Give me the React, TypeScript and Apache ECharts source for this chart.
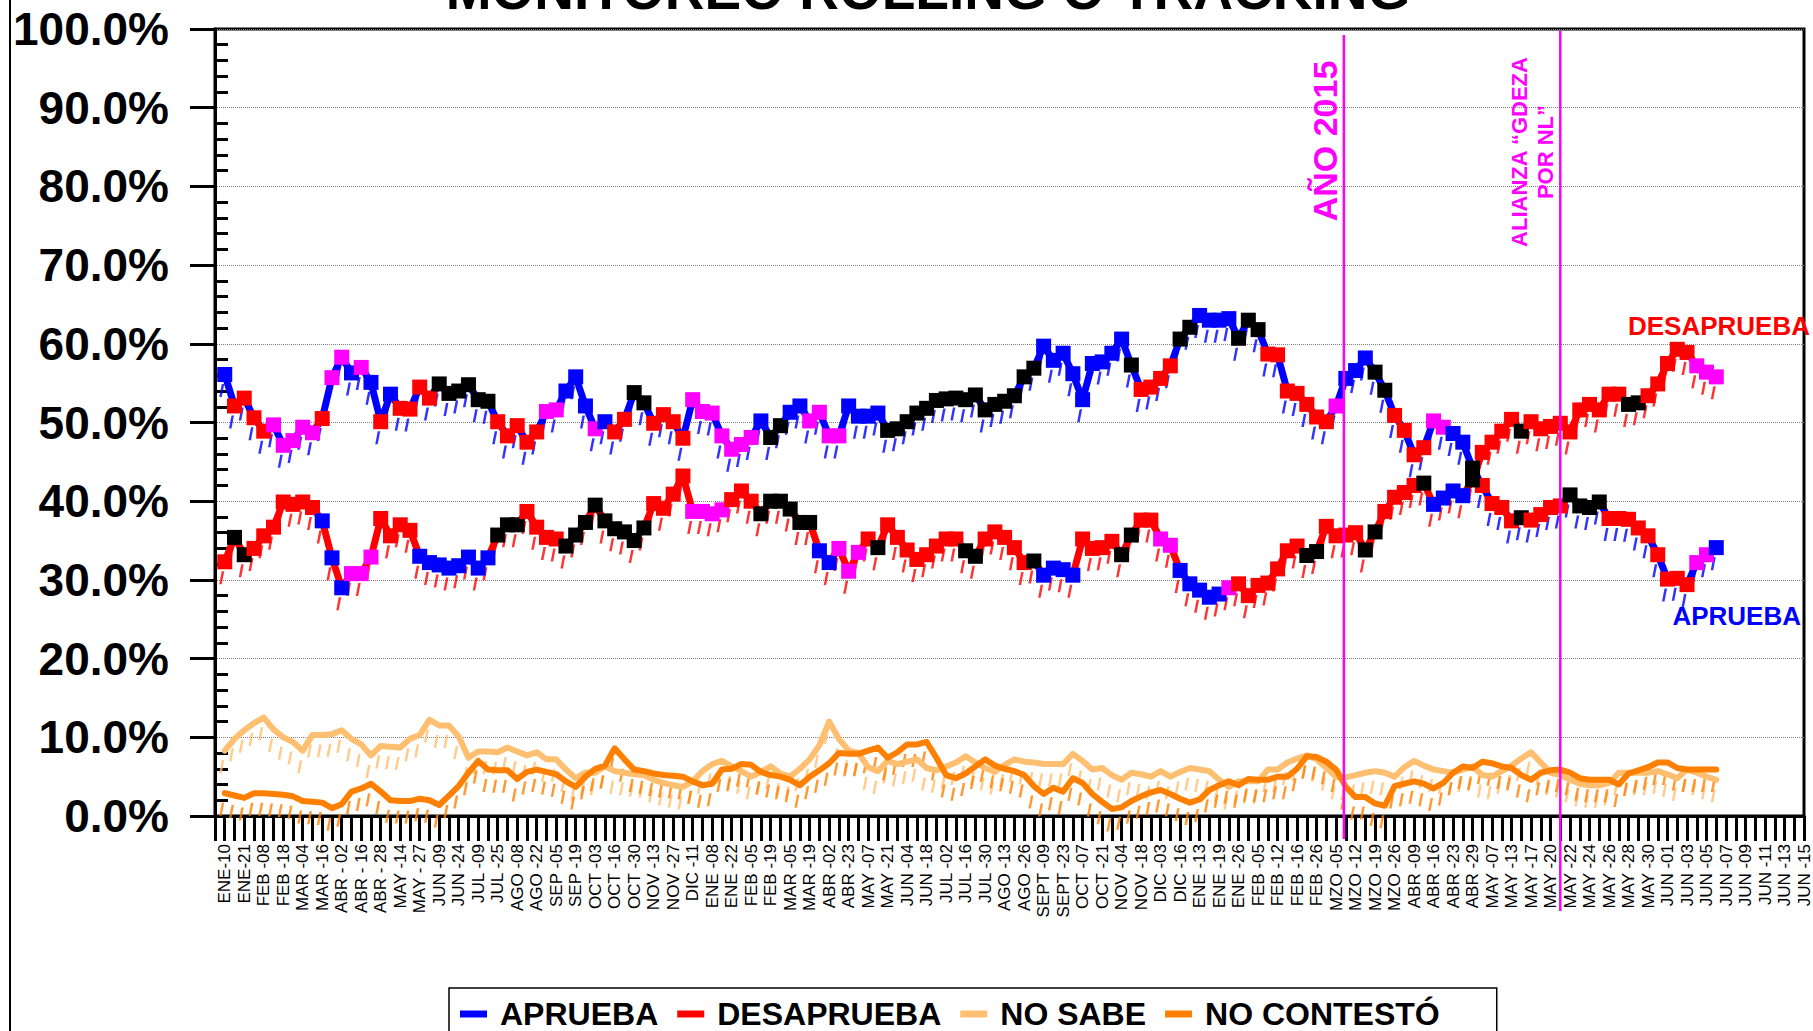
import React, { useEffect, useRef } from "react";
import * as echarts from "echarts";

const FONT = "'Liberation Sans', Arial, Helvetica, sans-serif";

const TICK_LABELS = [
  "ENE-10", "ENE-21", "FEB -08", "FEB -18", "MAR -04", "MAR -16", "ABR - 02", "ABR - 16", "ABR - 28", "MAY -14",
  "MAY - 27", "JUN -09", "JUN -24", "JUL -09", "JUL -25", "AGO -08", "AGO -22", "SEP -05", "SEP -19", "OCT -03",
  "OCT -16", "OCT -30", "NOV -13", "NOV -27", "DIC -11", "ENE -08", "ENE -22", "FEB -05", "FEB -19", "MAR -05",
  "MAR -19", "ABR -02", "ABR -23", "MAY -07", "MAY -21", "JUN -04", "JUN -18", "JUL -02", "JUL -16", "JUL -30",
  "AGO -13", "AGO -26", "SEPT -09", "SEPT -23", "OCT -07", "OCT -21", "NOV -04", "NOV -18", "DIC -03", "DIC -16",
  "ENE -13", "ENE -19", "ENE -26", "FEB -05", "FEB -12", "FEB -16", "FEB -26", "MZO -05", "MZO -12", "MZO -19",
  "MZO -26", "ABR -09", "ABR -16", "ABR -23", "ABR -29", "MAY -07", "MAY -13", "MAY -17", "MAY -20", "MAY -22",
  "MAY -24", "MAY -26", "MAY -28", "MAY -30", "JUN -01", "JUN -03", "JUN -05", "JUN -07", "JUN -09", "JUN -11",
  "JUN -13", "JUN -15",
];

// 164 category slots: labels on odd slots, unlabeled weeks on even slots
const CATEGORIES = Array.from({ length: 164 }, (_, i) => (i % 2 === 1 ? TICK_LABELS[(i - 1) / 2] : ""));

const APRUEBA = [
  56.1, 52.1, 53.1, 50.6, 48.9, 49.7, 47.1, 47.7, 49.4, 48.7,
  50.5, 55.7, 58.3, 56.3, 57.0, 55.1, 50.1, 53.6, 51.8, 51.7,
  54.5, 53.1, 54.9, 53.7, 54.0, 54.8, 52.9, 52.7, 50.1, 48.3,
  49.6, 47.5, 48.8, 51.4, 51.6, 54.0, 55.8, 52.1, 49.2, 50.1,
  48.8, 50.4, 53.8, 52.5, 49.9, 51.0, 50.1, 48.0, 52.9, 51.4,
  51.2, 48.3, 46.6, 47.2, 48.1, 50.2, 48.1, 49.6, 51.3, 52.1,
  50.2, 51.3, 48.3, 48.3, 52.1, 50.8, 50.8, 51.2, 49.0, 49.2,
  50.1, 51.2, 51.8, 52.8, 53.0, 53.1, 52.9, 53.5, 51.6, 52.3,
  52.7, 53.4, 55.8, 56.9, 59.7, 57.9, 58.8, 56.2, 52.9, 57.5,
  57.7, 58.8, 60.6, 57.3, 54.2, 54.5, 55.6, 57.2, 60.6, 62.1,
  63.6, 63.0, 63.0, 63.2, 60.7, 63.0, 61.8, 58.7, 58.6, 54.0,
  53.7, 52.3, 50.7, 50.1, 52.1, 55.6, 56.6, 58.2, 56.4, 54.1,
  50.9, 49.0, 45.9, 46.8, 50.2, 49.4, 48.6, 47.5, 44.2, 42.0,
  39.7, 39.2, 37.5, 37.9, 37.6, 38.3, 39.2, 39.4, 40.8, 39.4,
  39.2, 39.9, 37.8, 37.8, 37.7, 36.6, 35.6, 33.2, 30.1, 30.2,
  29.4, 32.2, 33.2, 34.1,
];
const APRUEBA_MARKS =
  "BRRRRMMMMM" + "RMMBMBRBRR" + "RRKKKKKKRR" + "RRRMMBBBMB" + "RRKKRRRRMM" +
  "MMMMMBKKBB" + "MMMMBBBBKK" + "KKKKKKKKKK" + "KKKKBBBBBB" + "BBBKRRRRKK" +
  "BBBBKKKRRR" + "RRRRMBBBKK" + "RRRRMMBBKR" + "RRRKRRRRKK" + "KKRRRRRRRR" + "RMMB";

const DESAPRUEBA = [
  32.3, 35.4, 33.2, 34.0, 35.6, 36.7, 39.9, 39.6, 39.9, 39.2,
  37.5, 32.8, 29.0, 30.8, 30.8, 32.9, 37.8, 35.6, 37.0, 36.3,
  33.0, 32.2, 31.9, 31.5, 31.8, 32.9, 31.5, 32.8, 35.7, 37.0,
  37.0, 38.7, 36.7, 35.4, 35.2, 34.3, 35.7, 37.3, 39.5, 37.5,
  36.5, 36.1, 35.0, 36.6, 39.7, 39.1, 40.9, 43.2, 38.7, 38.7,
  38.4, 38.9, 40.2, 41.3, 40.0, 38.4, 40.0, 40.0, 39.0, 37.3,
  37.3, 33.7, 32.2, 34.0, 31.1, 33.5, 35.2, 34.1, 37.0, 35.4,
  33.8, 32.6, 33.2, 34.3, 35.2, 35.2, 33.7, 33.0, 35.2, 36.1,
  35.4, 34.1, 32.2, 32.4, 30.6, 31.5, 31.3, 30.6, 35.2, 34.0,
  34.1, 34.9, 33.2, 35.7, 37.6, 37.6, 35.2, 34.4, 31.2, 29.5,
  28.7, 27.8, 28.2, 29.0, 29.5, 28.0, 29.3, 29.6, 31.4, 33.7,
  34.3, 33.1, 33.6, 36.8, 35.6, 35.7, 36.0, 33.8, 36.1, 38.7,
  40.5, 41.1, 42.0, 42.3, 39.6, 40.4, 41.3, 40.7, 42.7, 46.2,
  47.5, 48.9, 50.4, 48.9, 50.1, 49.2, 49.5, 49.9, 48.8, 51.6,
  52.3, 51.6, 53.6, 53.6, 52.3, 52.5, 53.4, 54.9, 57.5, 59.3,
  58.9, 57.2, 56.4, 55.8,
];
const DESAPRUEBA_MARKS =
  "RKKRRRRRRR" + "BBBMMMRRRR" + "BBBBBBBBKK" + "KRRRRKKKKK" + "KKKKRRRRMM" +
  "MMRRRKKKKK" + "KBBMMMRKRR" + "RRRRRRKKRR" + "RRRKBBBBRR" + "RRKKRRMMBB" +
  "BBBMRRRRRR" + "RKKRRRRKKR" + "RRRKBBBBKR" + "RRRKRRRRRR" + "RRRRKKRRRR" + "RMMM";

const NO_SABE = [
  8.3, 9.8, 10.9, 11.8, 12.5, 11.0, 10.0, 9.4, 8.3, 10.3,
  10.3, 10.4, 10.9, 9.8, 9.1, 7.7, 8.9, 8.8, 8.7, 9.8,
  10.3, 12.2, 11.5, 11.5, 10.1, 7.4, 8.2, 8.2, 8.1, 8.7,
  8.2, 7.7, 8.1, 7.2, 7.2, 5.9, 4.8, 5.5, 5.5, 6.3,
  5.7, 5.5, 5.3, 5.2, 4.6, 4.2, 3.9, 3.7, 4.4, 5.7,
  6.6, 7.0, 6.3, 5.7, 5.0, 5.6, 6.3, 5.4, 5.0, 6.0,
  7.2, 9.0, 12.0, 9.8, 8.3, 8.0, 6.2, 5.7, 7.0, 6.6,
  6.9, 7.2, 6.1, 5.8, 6.3, 6.8, 7.6, 6.8, 6.1, 5.6,
  6.5, 7.2, 6.9, 6.8, 6.6, 6.6, 6.6, 7.9, 7.0, 5.9,
  6.1, 5.2, 4.6, 5.5, 5.3, 5.0, 5.7, 5.0, 5.6, 6.1,
  5.9, 5.7, 4.6, 3.7, 4.4, 4.4, 4.4, 5.9, 5.9, 6.8,
  7.3, 7.7, 7.2, 6.1, 5.0, 4.9, 5.2, 5.5, 5.7, 5.5,
  5.0, 6.2, 7.0, 6.4, 5.9, 5.7, 5.5, 5.9, 6.3, 5.2,
  5.0, 5.7, 6.4, 7.3, 8.1, 6.8, 5.5, 5.2, 4.6, 4.1,
  3.9, 3.9, 4.2, 5.5, 5.5, 5.5, 5.5, 5.7, 5.3, 4.8,
  5.9, 5.5, 5.0, 4.6,
];

const NO_CONTESTO = [
  2.9, 2.6, 2.3, 2.9, 2.9, 2.8, 2.7, 2.5, 1.9, 1.8,
  1.7, 1.0, 1.5, 3.1, 3.5, 4.1, 3.1, 2.0, 1.9, 1.9,
  2.2, 2.0, 1.4, 2.6, 3.8, 5.5, 7.0, 5.9, 5.8, 5.8,
  4.7, 5.6, 5.9, 5.6, 5.3, 4.4, 3.7, 5.0, 6.0, 6.4,
  8.6, 7.2, 5.9, 5.7, 5.4, 5.2, 5.1, 5.0, 4.4, 3.9,
  4.1, 5.9, 6.0, 6.6, 6.5, 5.6, 5.2, 5.0, 4.6, 3.9,
  5.0, 5.8, 6.7, 8.0, 7.9, 7.9, 8.3, 8.7, 7.4, 8.1,
  9.1, 9.1, 9.4, 7.4, 5.2, 4.8, 5.4, 6.3, 7.2, 6.4,
  6.0, 5.7, 5.2, 3.8, 2.8, 3.6, 3.1, 4.8, 4.2, 2.8,
  1.8, 0.9, 1.1, 1.9, 2.5, 3.0, 3.3, 2.8, 2.2, 1.7,
  2.1, 3.3, 3.9, 4.4, 3.9, 4.7, 4.6, 4.6, 5.0, 5.0,
  6.0, 7.6, 7.5, 6.9, 5.9, 3.7, 2.4, 2.4, 1.6, 1.3,
  3.8, 4.1, 4.4, 4.1, 3.5, 4.2, 5.5, 6.3, 6.1, 6.9,
  6.7, 6.3, 6.1, 5.2, 4.6, 5.5, 5.8, 5.9, 5.5, 4.8,
  4.6, 4.6, 4.6, 4.0, 5.4, 5.8, 6.2, 6.8, 6.8, 6.1,
  5.9, 5.9, 5.9, 5.9,
];

const BLUE = "#0000FF";
const RED = "#FF0000";
const MAGENTA = "#FF00FF";
const LIGHT_ORANGE = "#FFBF70";
const ORANGE = "#FF8000";
const MARK_COLORS: Record<string, string> = { B: BLUE, R: RED, M: MAGENTA, K: "#000000" };

const markedData = (values: number[], marks: string) =>
  values.map((v, k) => ({ value: [k + 1, v], itemStyle: { color: MARK_COLORS[marks[k]] } }));

const plainData = (values: number[]) => values.map((v, k) => [k + 1, v]);

const shadowSeries = (name: string, color: string, values: number[]) => ({
  type: "scatter",
  name: name + " sombra",
  data: plainData(values),
  symbol: "path://M3,0 L6,0 L3,13 L0,13 Z",
  symbolSize: [5, 13],
  symbolOffset: [-3, 16],
  itemStyle: { color },
  z: 1,
  silent: true,
});

const mainSeries = (name: string, color: string, values: number[], marks: string) => ({
  type: "line",
  name,
  data: markedData(values, marks),
  symbol: "rect",
  symbolSize: 15,
  showSymbol: true,
  showAllSymbol: true,
  lineStyle: { color, width: 7, join: "round" },
  itemStyle: { color },
  z: 3,
  silent: true,
});

const thinSeries = (name: string, color: string, values: number[]) => ({
  type: "line",
  name,
  data: plainData(values),
  symbol: "none",
  showSymbol: false,
  lineStyle: { color, width: 6, join: "round", cap: "round" },
  itemStyle: { color },
  z: 2,
  silent: true,
});

export default function App() {
  const ref = useRef<HTMLDivElement>(null);

  useEffect(() => {
    document.body.style.margin = "0";
    if (!ref.current) return;
    const chart = echarts.init(ref.current, undefined, { renderer: "svg" });

    const option: any = {
      animation: false,
      backgroundColor: "#FFFFFF",
      grid: {
        left: 215,
        right: 9,
        top: 29,
        bottom: 215,
        show: true,
        borderColor: "#000000",
        borderWidth: 3,
        backgroundColor: "transparent",
      },
      legend: {
        left: 449,
        top: 988,
        orient: "horizontal",
        padding: [10, 57, 14, 11],
        itemGap: 19,
        itemWidth: 27,
        itemHeight: 7,
        icon: "rect",
        selectedMode: false,
        borderColor: "#000000",
        borderWidth: 1.5,
        backgroundColor: "#FFFFFF",
        textStyle: { fontFamily: FONT, fontWeight: "bold", fontSize: 32, color: "#000000", padding: [0, 0, 0, 8] },
        data: [
          { name: "APRUEBA", itemStyle: { color: BLUE } },
          { name: "DESAPRUEBA", itemStyle: { color: RED } },
          { name: "NO SABE", itemStyle: { color: LIGHT_ORANGE } },
          { name: "NO CONTESTÓ", itemStyle: { color: ORANGE } },
        ],
      },
      xAxis: {
        type: "category",
        data: CATEGORIES,
        boundaryGap: false,
        axisLine: { show: true, lineStyle: { color: "#000000", width: 3 } },
        axisTick: { show: true, interval: 0, length: 25, lineStyle: { color: "#000000", width: 3 } },
        axisLabel: {
          interval: (i: number) => i % 2 === 1,
          rotate: 90,
          fontSize: 17,
          fontFamily: FONT,
          color: "#000000",
          margin: 28,
        },
        splitLine: { show: false },
      },
      yAxis: [
        {
          type: "value",
          min: 0,
          max: 100,
          interval: 10,
          axisLine: { show: true, lineStyle: { color: "#000000", width: 3 } },
          axisTick: { show: true, length: 25, lineStyle: { color: "#000000", width: 3 } },
          axisLabel: {
            formatter: (v: number) => v.toFixed(1) + "%",
            fontSize: 46,
            fontWeight: "bold",
            fontFamily: FONT,
            color: "#000000",
            margin: 46,
          },
          splitLine: { show: true, lineStyle: { color: "#808080", width: 1, type: "dotted" } },
        },
        {
          type: "value",
          min: 0,
          max: 100,
          interval: 10,
          position: "left",
          offset: 0,
          axisLine: { show: false },
          axisTick: { show: false, inside: true },
          minorTick: { show: true, splitNumber: 5, length: 13, lineStyle: { color: "#000000", width: 3 } },
          axisLabel: { show: false },
          splitLine: { show: false },
          minorSplitLine: { show: false },
        },
      ],
      series: [
        shadowSeries("APRUEBA", BLUE, APRUEBA),
        shadowSeries("DESAPRUEBA", RED, DESAPRUEBA),
        shadowSeries("NO SABE", LIGHT_ORANGE, NO_SABE),
        shadowSeries("NO CONTESTÓ", ORANGE, NO_CONTESTO),
        thinSeries("NO SABE", LIGHT_ORANGE, NO_SABE),
        thinSeries("NO CONTESTÓ", ORANGE, NO_CONTESTO),
        mainSeries("APRUEBA", BLUE, APRUEBA, APRUEBA_MARKS),
        mainSeries("DESAPRUEBA", RED, DESAPRUEBA, DESAPRUEBA_MARKS),
      ],
    };

    chart.setOption(option);

    const px = (c: number) => chart.convertToPixel({ xAxisIndex: 0 }, c) as number;
    const xAno = px(115) + 0.8 * (px(116) - px(115));
    const xAlianza = px(138);

    chart.setOption({
      graphic: {
        elements: [
          {
            type: "line",
            shape: { x1: 10, y1: 0, x2: 10, y2: 1031 },
            style: { stroke: "#000000", lineWidth: 2 },
            z: 20,
          },
          {
            type: "text",
            x: 928,
            y: -10,
            style: {
              text: "MONITOREO ROLLING O TRACKING",
              align: "center",
              verticalAlign: "middle",
              font: "bold 55px " + FONT,
              fill: "#000000",
            },
            z: 20,
          },
          {
            type: "line",
            shape: { x1: xAno, y1: 35, x2: xAno, y2: 839 },
            style: { stroke: MAGENTA, lineWidth: 2.5 },
            z: 20,
          },
          {
            type: "line",
            shape: { x1: xAlianza, y1: 31, x2: xAlianza, y2: 911 },
            style: { stroke: MAGENTA, lineWidth: 2.5 },
            z: 20,
          },
          {
            type: "text",
            x: xAno - 19,
            y: 141,
            rotation: Math.PI / 2,
            style: {
              text: "AÑO 2015",
              align: "center",
              verticalAlign: "middle",
              font: "bold 34px " + FONT,
              fill: MAGENTA,
            },
            z: 20,
          },
          {
            type: "text",
            x: xAlianza - 28,
            y: 152,
            rotation: Math.PI / 2,
            style: {
              text: "ALIANZA “GDEZA\nPOR NL”",
              align: "center",
              verticalAlign: "middle",
              font: "bold 22px " + FONT,
              lineHeight: 26,
              fill: MAGENTA,
            },
            z: 20,
          },
          {
            type: "text",
            x: 1810,
            y: 326,
            style: {
              text: "DESAPRUEBA",
              align: "right",
              verticalAlign: "middle",
              font: "bold 26px " + FONT,
              fill: RED,
            },
            z: 20,
          },
          {
            type: "text",
            x: 1801,
            y: 616,
            style: {
              text: "APRUEBA",
              align: "right",
              verticalAlign: "middle",
              font: "bold 26px " + FONT,
              fill: BLUE,
            },
            z: 20,
          },
        ],
      },
    });

    return () => chart.dispose();
  }, []);

  return <div ref={ref} style={{ width: 1813, height: 1031 }} />;
}
